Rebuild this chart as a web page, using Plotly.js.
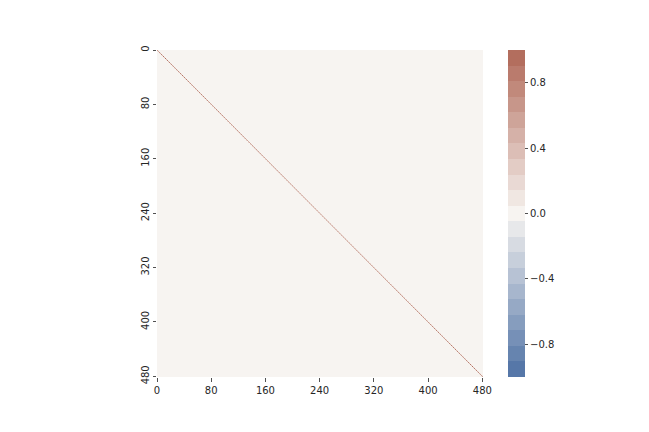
<!DOCTYPE html>
<html>
<head>
<meta charset="utf-8">
<script src="https://cdn.plot.ly/plotly-3.0.1.min.js"></script>
<style>
  body { margin: 0; background: #fff; }
  #chart { width: 649px; height: 432px; }
</style>
</head>
<body>
<div id="chart"></div>
<script>
// correlation matrix: 481 features, self-correlation on the diagonal, ~0 elsewhere
var nFeatures = 481;
var diagValue = 1.0;
var offDiagValue = 0.0;
var tickValues = [0, 80, 160, 240, 320, 400, 480];
var cbTicks = [-0.8, -0.4, 0.0, 0.4, 0.8];
var cbLabels = ['\u22120.8', '\u22120.4', '0.0', '0.4', '0.8'];

var matrix = [];
for (let i = 0; i < nFeatures; i++) {
    let row = [];
    for (let j = 0; j < nFeatures; j++) {
        row.push(i === j ? diagValue : offDiagValue);
    }
    matrix.push(row);
}

// discrete diverging palette, blue -> warm white -> brick red (odd count so 0 sits in a white band)
var nBands = 21;
var blueEnd = [86, 119, 168], midCol = [247, 244, 241], redEnd = [179, 110, 94];
function mix(a, b, t) {
    return 'rgb(' + a.map((v, k) => Math.round(v + (b[k] - v) * t)).join(',') + ')';
}
var colorscale = [];
var half = (nBands - 1) / 2;
for (let b = 0; b < nBands; b++) {
    let col = b < half ? mix(blueEnd, midCol, b / half) : mix(midCol, redEnd, (b - half) / half);
    colorscale.push([b / nBands, col]);
    colorscale.push([(b + 1) / nBands, col]);
}

var axisFont = { family: 'DejaVu Sans', size: 10, color: '#262626' };

var data = {
    z: matrix,
    x0: 0.5, dx: 1,
    y0: 0.5, dy: 1,
    type: 'heatmap',
    colorscale: colorscale,
    zmin: -1,
    zmax: 1,
    zsmooth: 'fast',
    hoverinfo: 'skip',
    colorbar: {
        x: 1.077, xanchor: 'left', xref: 'paper', xpad: 0,
        y: 0.5, yanchor: 'middle', ypad: 0,
        len: 1, lenmode: 'fraction',
        thickness: 17,
        outlinewidth: 0,
        ticks: 'outside', ticklen: 3.5, tickwidth: 0.8, tickcolor: '#262626',
        tickvals: cbTicks, ticktext: cbLabels,
        tickfont: axisFont
    }
};

var layout = {
    width: 649,
    height: 432,
    margin: { l: 157, r: 166, t: 50, b: 55 },
    paper_bgcolor: '#fff',
    plot_bgcolor: '#fff',
    xaxis: {
        range: [0, nFeatures],
        tickvals: tickValues,
        ticks: 'outside', ticklen: 3.5, tickwidth: 0.8, tickcolor: '#262626',
        showgrid: false, zeroline: false, showline: false,
        tickfont: axisFont,
        fixedrange: true
    },
    yaxis: {
        range: [nFeatures, 0],
        tickvals: tickValues,
        tickangle: -90,
        ticks: 'outside', ticklen: 3.5, tickwidth: 0.8, tickcolor: '#262626',
        showgrid: false, zeroline: false, showline: false,
        tickfont: axisFont,
        fixedrange: true
    }
};

Plotly.newPlot('chart', [data], layout, { displayModeBar: false, staticPlot: true });
</script>
</body>
</html>
